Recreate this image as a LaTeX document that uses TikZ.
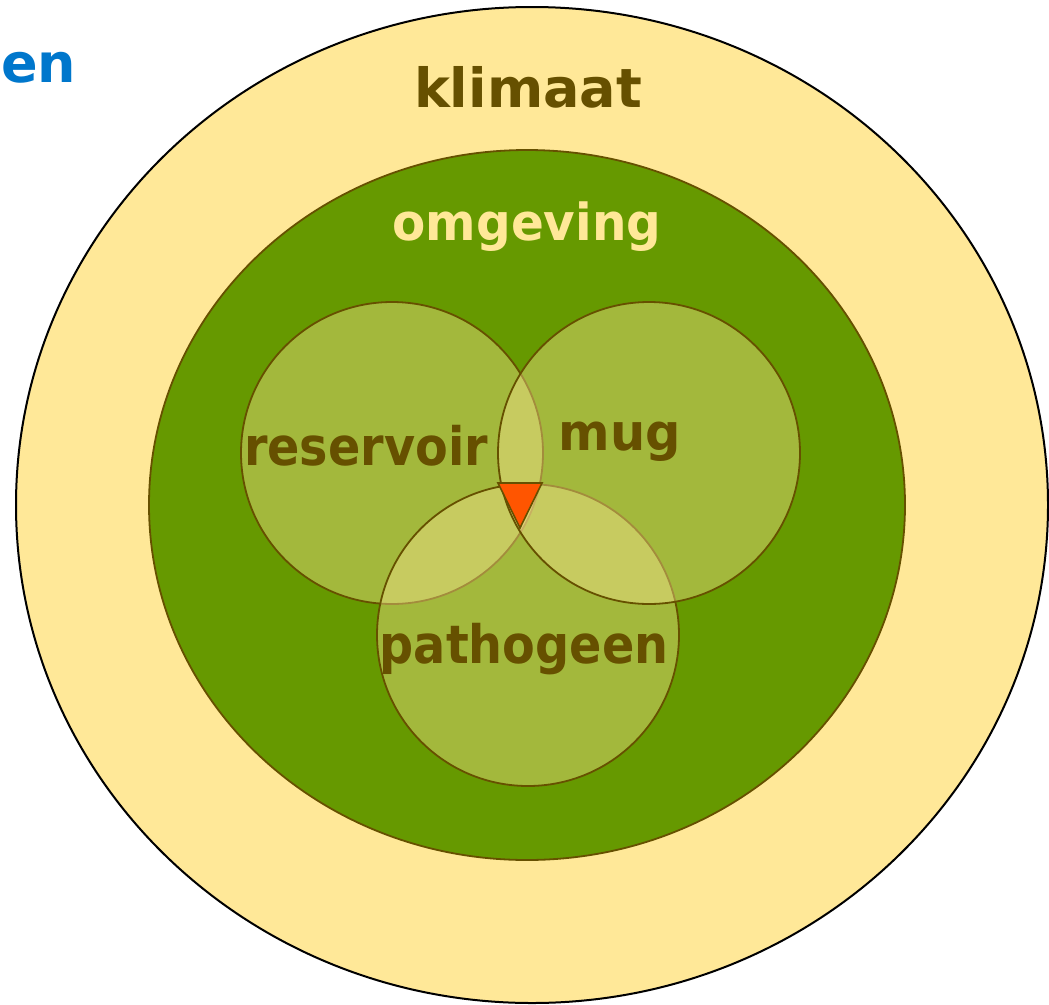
\documentclass[tikz,border=0pt]{standalone}
\usepackage{fontspec}
\newfontfamily\lblfont{DejaVu Sans}
\definecolor{klimaatbg}{HTML}{FFE898}
\definecolor{omggreen}{HTML}{669900}
\definecolor{darkbrown}{HTML}{665000}
\definecolor{venn}{HTML}{FFE898}
\definecolor{apex}{HTML}{FF5500}
\definecolor{titleblue}{HTML}{0077CC}
\tikzset{
  vennc/.style={fill=venn, fill opacity=0.4, draw=darkbrown, draw opacity=1, line width=1.8pt},
  lbl/.style={inner sep=0pt, anchor=base, text=darkbrown, font=\lblfont\bfseries},
}
\newcommand{\lblsize}[3]{\fontsize{#1}{#1}\selectfont\scalebox{#2}[1]{#3}}
\begin{document}
\begin{tikzpicture}[x=1pt,y=-1pt]
\useasboundingbox (0,0) rectangle (1049,1004);
\fill[white] (0,0) rectangle (1049,1004);
% climate
\draw[fill=klimaatbg, draw=black, line width=2pt] (532,505) ellipse [x radius=516, y radius=498];
% environment
\draw[fill=omggreen, draw=darkbrown, line width=1.8pt] (527,505) ellipse [x radius=378, y radius=355];
% venn circles
\draw[vennc] (392,453) circle [radius=151];
\draw[vennc] (528,635) circle [radius=151];
\draw[vennc] (649,453) circle [radius=151];
% apex triangle
\draw[fill=apex, draw=darkbrown, line width=1.6pt, line join=miter] (498,483) -- (542,483) -- (520,528) -- cycle;
% labels
\node[lbl] (klimaat) at (528,107) {\lblsize{54}{1.0}{klimaat}};
\node[lbl, text=klimaatbg] (omgeving) at (527,240) {\lblsize{51}{0.95}{omgeving}};
\node[lbl] (reservoir) at (366,465) {\lblsize{53}{0.9}{reservoir}};
\node[lbl] (mug) at (620,450) {\lblsize{51}{0.97}{mug}};
\node[lbl] (pathogeen) at (524,663) {\lblsize{53}{0.9}{pathogeen}};
\node[lbl, anchor=base west, text=titleblue] (title) at (1,82) {\lblsize{54}{1.0}{en}};
\end{tikzpicture}
\end{document}
